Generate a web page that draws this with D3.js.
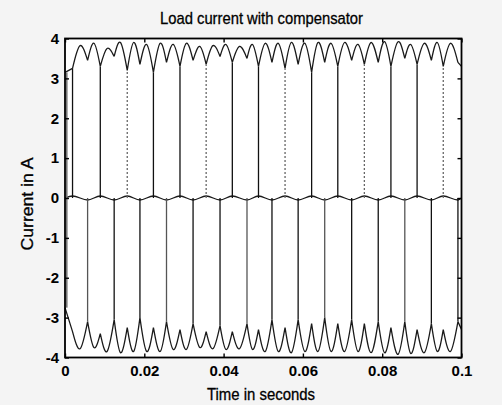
<!DOCTYPE html>
<html>
<head>
<meta charset="utf-8">
<script src="https://cdn.jsdelivr.net/npm/d3@7"></script>
<style>
  body { margin: 0; background: #f4f4f4; }
  svg { display: block; }
  text { font-family: Arial, "Liberation Sans", sans-serif; fill: #000; }
</style>
</head>
<body>
<div id="chart"></div>
<script>
var svgWidth = 502;
var svgHeight = 405;

// commutation instants (s): lines between 0 and +I, and between 0 and -I
var upTimes = [0.0019, 0.0089, 0.0157, 0.0223, 0.0290, 0.0356, 0.0422, 0.0488, 0.0555, 0.0622, 0.0688, 0.0755, 0.0822, 0.0888, 0.0954];
var downTimes = [0.0057, 0.0124, 0.0189, 0.0256, 0.0323, 0.0391, 0.0459, 0.0522, 0.0588, 0.0655, 0.0723, 0.0790, 0.0857, 0.0924, 0.0991];

// positive envelope (troughs at commutations, peaks between)
var topT = [0, 0.0019, 0.0038, 0.0057, 0.0073, 0.0089, 0.0106, 0.0124, 0.0140, 0.0157, 0.0173, 0.0189, 0.0206, 0.0223, 0.0240, 0.0256, 0.0273, 0.0290, 0.0306, 0.0323, 0.0340, 0.0356, 0.0373, 0.0391, 0.0406, 0.0422, 0.0440, 0.0459, 0.0473, 0.0488, 0.0505, 0.0522, 0.0538, 0.0555, 0.0571, 0.0588, 0.0605, 0.0622, 0.0638, 0.0655, 0.0671, 0.0688, 0.0705, 0.0723, 0.0739, 0.0755, 0.0772, 0.0790, 0.0806, 0.0822, 0.0840, 0.0857, 0.0872, 0.0888, 0.0906, 0.0924, 0.0939, 0.0954, 0.0972, 0.0991, 0.1];
var topV = [3.15, 3.25, 3.82, 3.45, 3.88, 3.30, 3.75, 3.55, 3.90, 3.20, 3.90, 3.35, 3.85, 3.15, 3.88, 3.40, 3.85, 3.30, 3.88, 3.45, 3.80, 3.35, 3.82, 3.55, 3.85, 3.40, 3.80, 3.50, 3.85, 3.30, 3.88, 3.40, 3.88, 3.25, 3.90, 3.35, 3.88, 3.15, 3.90, 3.40, 3.88, 3.30, 3.90, 3.45, 3.85, 3.35, 3.90, 3.40, 3.92, 3.30, 3.92, 3.50, 3.85, 3.35, 3.88, 3.45, 3.90, 3.30, 3.88, 3.40, 3.30];

// negative envelope
var botT = topT;
var botV = [-2.75, -3.35, -3.78, -3.10, -3.75, -3.40, -3.85, -3.05, -3.88, -3.25, -3.85, -3.00, -3.85, -3.25, -3.85, -3.10, -3.80, -3.30, -3.80, -3.15, -3.75, -3.35, -3.78, -3.20, -3.80, -3.35, -3.78, -3.15, -3.80, -3.30, -3.85, -3.05, -3.85, -3.25, -3.88, -3.05, -3.85, -3.15, -3.85, -3.00, -3.85, -3.15, -3.85, -3.05, -3.85, -3.15, -3.88, -3.10, -3.88, -3.25, -3.92, -3.10, -3.90, -3.30, -3.88, -3.15, -3.85, -3.30, -3.85, -3.10, -3.30];

// zero-level phase (small bumps at the commutations)
var zeroT = [0, 0.0019, 0.0057, 0.0089, 0.0124, 0.0157, 0.0189, 0.0223, 0.0256, 0.0290, 0.0323, 0.0356, 0.0391, 0.0422, 0.0459, 0.0488, 0.0522, 0.0555, 0.0588, 0.0622, 0.0655, 0.0688, 0.0723, 0.0755, 0.0790, 0.0822, 0.0857, 0.0888, 0.0924, 0.0954, 0.0991, 0.1];
var zeroV = [0, 0.05, -0.05, 0.05, -0.05, 0.05, -0.05, 0.05, -0.05, 0.05, -0.05, 0.05, -0.05, 0.05, -0.05, 0.05, -0.05, 0.05, -0.05, 0.05, -0.05, 0.05, -0.05, 0.05, -0.05, 0.05, -0.05, 0.05, -0.05, 0.05, -0.05, 0];

var xTicks = [0, 0.02, 0.04, 0.06, 0.08, 0.1];
var xTickLabels = ["0", "0.02", "0.04", "0.06", "0.08", "0.1"];
var yTicks = [-4, -3, -2, -1, 0, 1, 2, 3, 4];
var yTickLabels = ["-4", "-3", "-2", "-1", "0", "1", "2", "3", "4"];

var margin = { top: 38.5, right: 40.5, bottom: 47.5, left: 65 };
var width = svgWidth - margin.left - margin.right;
var height = svgHeight - margin.top - margin.bottom;

var svg = d3.select("#chart")
  .append("svg")
  .attr("width", svgWidth)
  .attr("height", svgHeight);

var chartGroup = svg.append("g")
  .attr("transform", `translate(${margin.left}, ${margin.top})`);

var x = d3.scaleLinear().domain([0, 0.1]).range([0, width]);
var y = d3.scaleLinear().domain([-4, 4]).range([height, 0]);

chartGroup.append("rect")
  .attr("width", width)
  .attr("height", height)
  .attr("fill", "#fff");

// traces
var hump = d3.line().x(d => x(d[0])).y(d => y(d[1])).curve(d3.curveNatural);
var straight = d3.line().x(d => x(d[0])).y(d => y(d[1]));

function envelopePath(ts, vs) {
  var parts = [straight([[ts[0], vs[0]], [ts[1], vs[1]]])];
  for (var i = 1; i + 2 < ts.length - 1; i += 2) {
    parts.push(hump([[ts[i], vs[i]], [ts[i + 1], vs[i + 1]], [ts[i + 2], vs[i + 2]]]));
  }
  var n = ts.length;
  parts.push(straight([[ts[n - 2], vs[n - 2]], [ts[n - 1], vs[n - 1]]]));
  return parts.join("");
}

var traces = chartGroup.append("g").attr("fill", "none");

traces.append("path")
  .attr("d", envelopePath(topT, topV))
  .attr("stroke", "#1a1a1a")
  .attr("stroke-width", 1.3);

traces.append("path")
  .attr("d", envelopePath(botT, botV))
  .attr("stroke", "#1a1a1a")
  .attr("stroke-width", 1.3);

traces.append("path")
  .attr("d", d3.line().x((d, i) => x(zeroT[i])).y(d => y(d)).curve(d3.curveMonotoneX)(zeroV))
  .attr("stroke", "#1a1a1a")
  .attr("stroke-width", 1.3);

// start-up transition at t = 0
traces.append("line")
  .attr("x1", x(0.0004)).attr("x2", x(0.0004))
  .attr("y1", y(topV[0])).attr("y2", y(botV[0]))
  .attr("stroke", "#777")
  .attr("stroke-width", 2);

traces.selectAll(".up")
  .data(upTimes)
  .enter()
  .append("line")
  .attr("x1", d => x(d)).attr("x2", d => x(d))
  .attr("y1", y(0))
  .attr("y2", d => y(topV[topT.indexOf(d)]))
  .attr("stroke", (d, i) => i % 3 == 2 ? "#666" : "#111")
  .attr("stroke-dasharray", (d, i) => i % 3 == 2 ? "2,2" : null)
  .attr("stroke-width", 1.3);

traces.selectAll(".down")
  .data(downTimes)
  .enter()
  .append("line")
  .attr("x1", d => x(d)).attr("x2", d => x(d))
  .attr("y1", y(0))
  .attr("y2", d => y(botV[botT.indexOf(d)]))
  .attr("stroke", (d, i) => i % 3 == 0 ? "#555" : "#111")
  .attr("stroke-width", 1.3);

// axes with inward ticks, MATLAB style
var bottomAxis = d3.axisBottom(x).tickValues(xTicks).tickFormat((d, i) => xTickLabels[i]).tickSize(-4).tickPadding(8);
var topAxis = d3.axisTop(x).tickValues(xTicks).tickFormat("").tickSize(-4);
var leftAxis = d3.axisLeft(y).tickValues(yTicks).tickFormat((d, i) => yTickLabels[i]).tickSize(-4).tickPadding(6);
var rightAxis = d3.axisRight(y).tickValues(yTicks).tickFormat("").tickSize(-4);

[
  chartGroup.append("g").attr("transform", `translate(0, ${height})`).call(bottomAxis),
  chartGroup.append("g").call(topAxis),
  chartGroup.append("g").call(leftAxis),
  chartGroup.append("g").attr("transform", `translate(${width}, 0)`).call(rightAxis)
].forEach(function(g) {
  g.select(".domain").remove();
  g.selectAll("line").attr("stroke", "#000").attr("stroke-width", 1.4);
  g.selectAll("text")
    .attr("font-size", "15px")
    .attr("font-weight", "bold")
    .attr("font-family", "Arial, 'Liberation Sans', sans-serif")
    .attr("fill", "#000");
});

chartGroup.append("rect")
  .attr("width", width)
  .attr("height", height)
  .attr("fill", "none")
  .attr("stroke", "#000")
  .attr("stroke-width", 1.8);

// labels (narrow, tall look of the scanned MATLAB text)
svg.append("text")
  .attr("x", 261.5)
  .attr("y", 24)
  .attr("text-anchor", "middle")
  .attr("font-size", "17px")
  .attr("textLength", 203)
  .attr("lengthAdjust", "spacingAndGlyphs")
  .attr("stroke", "#000")
  .attr("stroke-width", 0.3)
  .text("Load current with compensator");

svg.append("text")
  .attr("x", 261)
  .attr("y", 400)
  .attr("text-anchor", "middle")
  .attr("font-size", "16px")
  .attr("textLength", 108)
  .attr("lengthAdjust", "spacingAndGlyphs")
  .attr("stroke", "#000")
  .attr("stroke-width", 0.3)
  .text("Time in seconds");

svg.append("text")
  .attr("transform", "translate(33, 204) rotate(-90)")
  .attr("text-anchor", "middle")
  .attr("font-size", "16px")
  .attr("textLength", 93)
  .attr("lengthAdjust", "spacingAndGlyphs")
  .attr("stroke", "#000")
  .attr("stroke-width", 0.3)
  .text("Current in A");
</script>
</body>
</html>
